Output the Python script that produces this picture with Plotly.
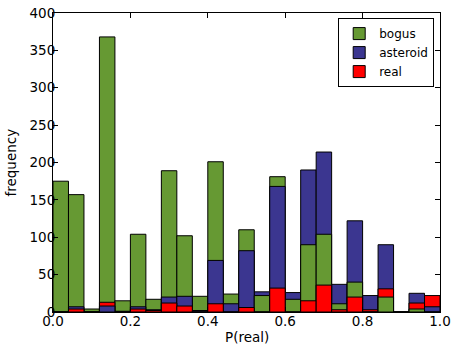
import numpy as np
import plotly.graph_objects as go

# histogram counts per bin, 25 bins on [0, 1]
bin_edges = np.linspace(0, 1, 26)
bogus = [175, 157, 4, 368, 15, 104, 17, 189, 102, 21, 201, 24, 110,
         22, 181, 17, 90, 104, 11, 40, 0, 20, 0, 4, 0]
asteroid = [0, 7, 0, 8, 1, 7, 3, 20, 21, 1, 69, 11, 82,
            27, 168, 26, 190, 214, 37, 122, 22, 90, 0, 25, 7]
real = [0, 4, 0, 13, 0, 4, 2, 12, 8, 2, 11, 0, 6,
        0, 32, 0, 15, 36, 3, 20, 3, 31, 0, 12, 22]

names = ['bogus', 'asteroid', 'real']
colors = {'bogus': '#669933', 'asteroid': '#3b3690', 'real': '#ff0000'}
series = {'bogus': bogus, 'asteroid': asteroid, 'real': real}

centers = (bin_edges[:-1] + bin_edges[1:]) / 2
width = bin_edges[1] - bin_edges[0]

fig = go.Figure()

# overlaid bars: in every bin the tallest is drawn first, the smallest in front
for rank in range(3):
    ys, cs = [], []
    for i in range(len(centers)):
        order = sorted(names, key=lambda n: -series[n][i])
        n = order[rank]
        ys.append(series[n][i])
        cs.append(colors[n])
    fig.add_trace(go.Bar(x=centers, y=ys, width=width,
                         marker=dict(color=cs, line=dict(color='black', width=1)),
                         showlegend=False, hoverinfo='y'))

# legend entries only
for n in names:
    fig.add_trace(go.Bar(x=[None], y=[None], name=n,
                         marker=dict(color=colors[n], line=dict(color='black', width=1))))

axis_common = dict(showline=True, linecolor='black', linewidth=1, mirror='ticks',
                   ticks='inside', ticklen=5, tickcolor='black', showgrid=False,
                   zeroline=False, automargin=False,
                   tickfont=dict(size=13.5, color='black'))

fig.update_layout(
    width=457, height=353,
    margin=dict(l=53, r=17, t=13, b=41),
    barmode='overlay',
    plot_bgcolor='white', paper_bgcolor='white',
    font=dict(family='DejaVu Sans', size=13, color='black'),
    legend=dict(x=0.985, y=0.983, xanchor='right', yanchor='top',
                bordercolor='black', borderwidth=1, bgcolor='white',
                font=dict(size=12), traceorder='normal',
                itemwidth=30, tracegroupgap=0),
    annotations=[
        dict(text='P(real)', xref='paper', yref='paper', x=0.5, y=-0.083,
             xanchor='center', yanchor='middle', showarrow=False,
             font=dict(size=13.5)),
        dict(text='frequency', xref='paper', yref='paper', x=-0.111, y=0.5,
             xanchor='center', yanchor='middle', showarrow=False, textangle=-90,
             font=dict(size=13.5)),
    ],
)
fig.update_xaxes(range=[0, 1], dtick=0.2, tickformat='.1f', ticklabelstandoff=-3,
                 **axis_common)
fig.update_yaxes(range=[0, 400], dtick=50, ticklabelstandoff=-6, **axis_common)

# drop the browser's default body margin so the figure sits at the page corner
fig.write_html("out.html", config={'displayModeBar': False},
               post_script="document.body.style.margin='0';")
